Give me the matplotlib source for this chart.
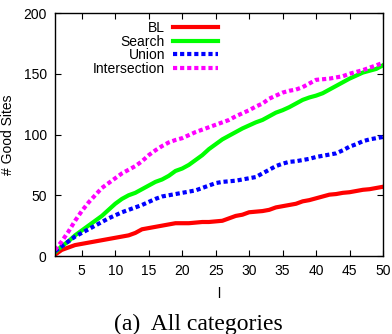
import matplotlib

matplotlib.use("Agg")

import matplotlib.pyplot as plt

l_values = list(range(1, 51))

bl = [1, 5, 7, 9, 10, 11, 12, 13, 14, 15,
      16, 17, 19, 22, 23, 24, 25, 26, 27, 27,
      27, 27.5, 28, 28, 28.5, 29, 31, 33, 34, 36,
      36.5, 37, 38, 40, 41, 42, 43, 45, 46, 47.5,
      49, 50.5, 51, 52, 52.5, 53.5, 54.5, 55, 56, 57]
search = [3, 8, 12, 17, 21, 25, 29, 33, 38, 43,
          47, 50, 52, 55, 58, 61, 63, 66, 70, 72,
          75, 79, 83, 88, 92, 96, 99, 102, 105, 107.5,
          110, 112, 115, 118, 120, 122.5, 125.5, 128.5, 130.5, 132,
          134, 137, 140, 143, 146, 148.5, 151, 152.5, 154, 157]
union = [4, 8, 12, 16, 19, 22, 25, 28, 31, 33.5,
         36, 38, 40, 42, 44.5, 47, 49, 50, 51, 52,
         53, 54, 56, 58, 60, 61, 61.5, 62, 63, 64,
         65, 68, 71, 74, 76, 77.5, 78, 79, 80, 81.5,
         82.5, 83.5, 84.5, 87, 90, 92, 94.5, 96, 97, 98]
intersection = [5, 12, 20, 29, 37, 44, 50, 56, 60, 64,
                68, 71, 74, 78, 83, 87, 90.5, 93.5, 95.5, 97,
                99.5, 102, 104, 106, 108, 110, 112, 115, 117.5, 120,
                123, 125.5, 129.5, 132, 134.5, 136, 137, 139, 142, 145,
                145.5, 146, 147, 148, 150, 151.5, 153, 155, 157, 159]

x_ticks = [5, 10, 15, 20, 25, 30, 35, 40, 45, 50]
y_ticks = [0, 50, 100, 150, 200]

plt.rcParams["font.family"] = ["Liberation Sans", "DejaVu Sans"]

fig = plt.figure(figsize=(3.92, 3.34), dpi=100)
ax = fig.add_axes([0.1403, 0.2335, 0.8367, 0.7275])

dots = (0, (1, 0.7))
ax.plot(l_values, bl, color="#ff0000", lw=3, label="BL")
ax.plot(l_values, search, color="#00ff00", lw=3, label="Search")
ax.plot(l_values, union, color="#0000ff", lw=3, ls=dots, label="Union")
ax.plot(l_values, intersection, color="#ff00ff", lw=3, ls=dots, label="Intersection")

ax.set_xlim(1, 50)
ax.set_ylim(0, 200)
ax.set_xticks(x_ticks)
ax.set_yticks(y_ticks)
ax.tick_params(direction="in", top=True, right=True, labelsize=10, length=4, pad=6)
for s in ax.spines.values():
    s.set_linewidth(1)

ax.set_xlabel("l", fontsize=10, labelpad=6)
ax.set_ylabel("# Good Sites", fontsize=10, labelpad=6)

ax.legend(loc="upper left", bbox_to_anchor=(0.09, 1.0), frameon=False, markerfirst=False,
          fontsize=10, handlelength=3.2, handletextpad=0.6, labelspacing=-0.04,
          borderaxespad=0.2)

fig.text(0.505, -0.004, "(a)  All categories", ha="center", va="bottom",
         family=["Liberation Serif", "DejaVu Serif"], fontsize=17)

fig.savefig("out.png", dpi=100)
